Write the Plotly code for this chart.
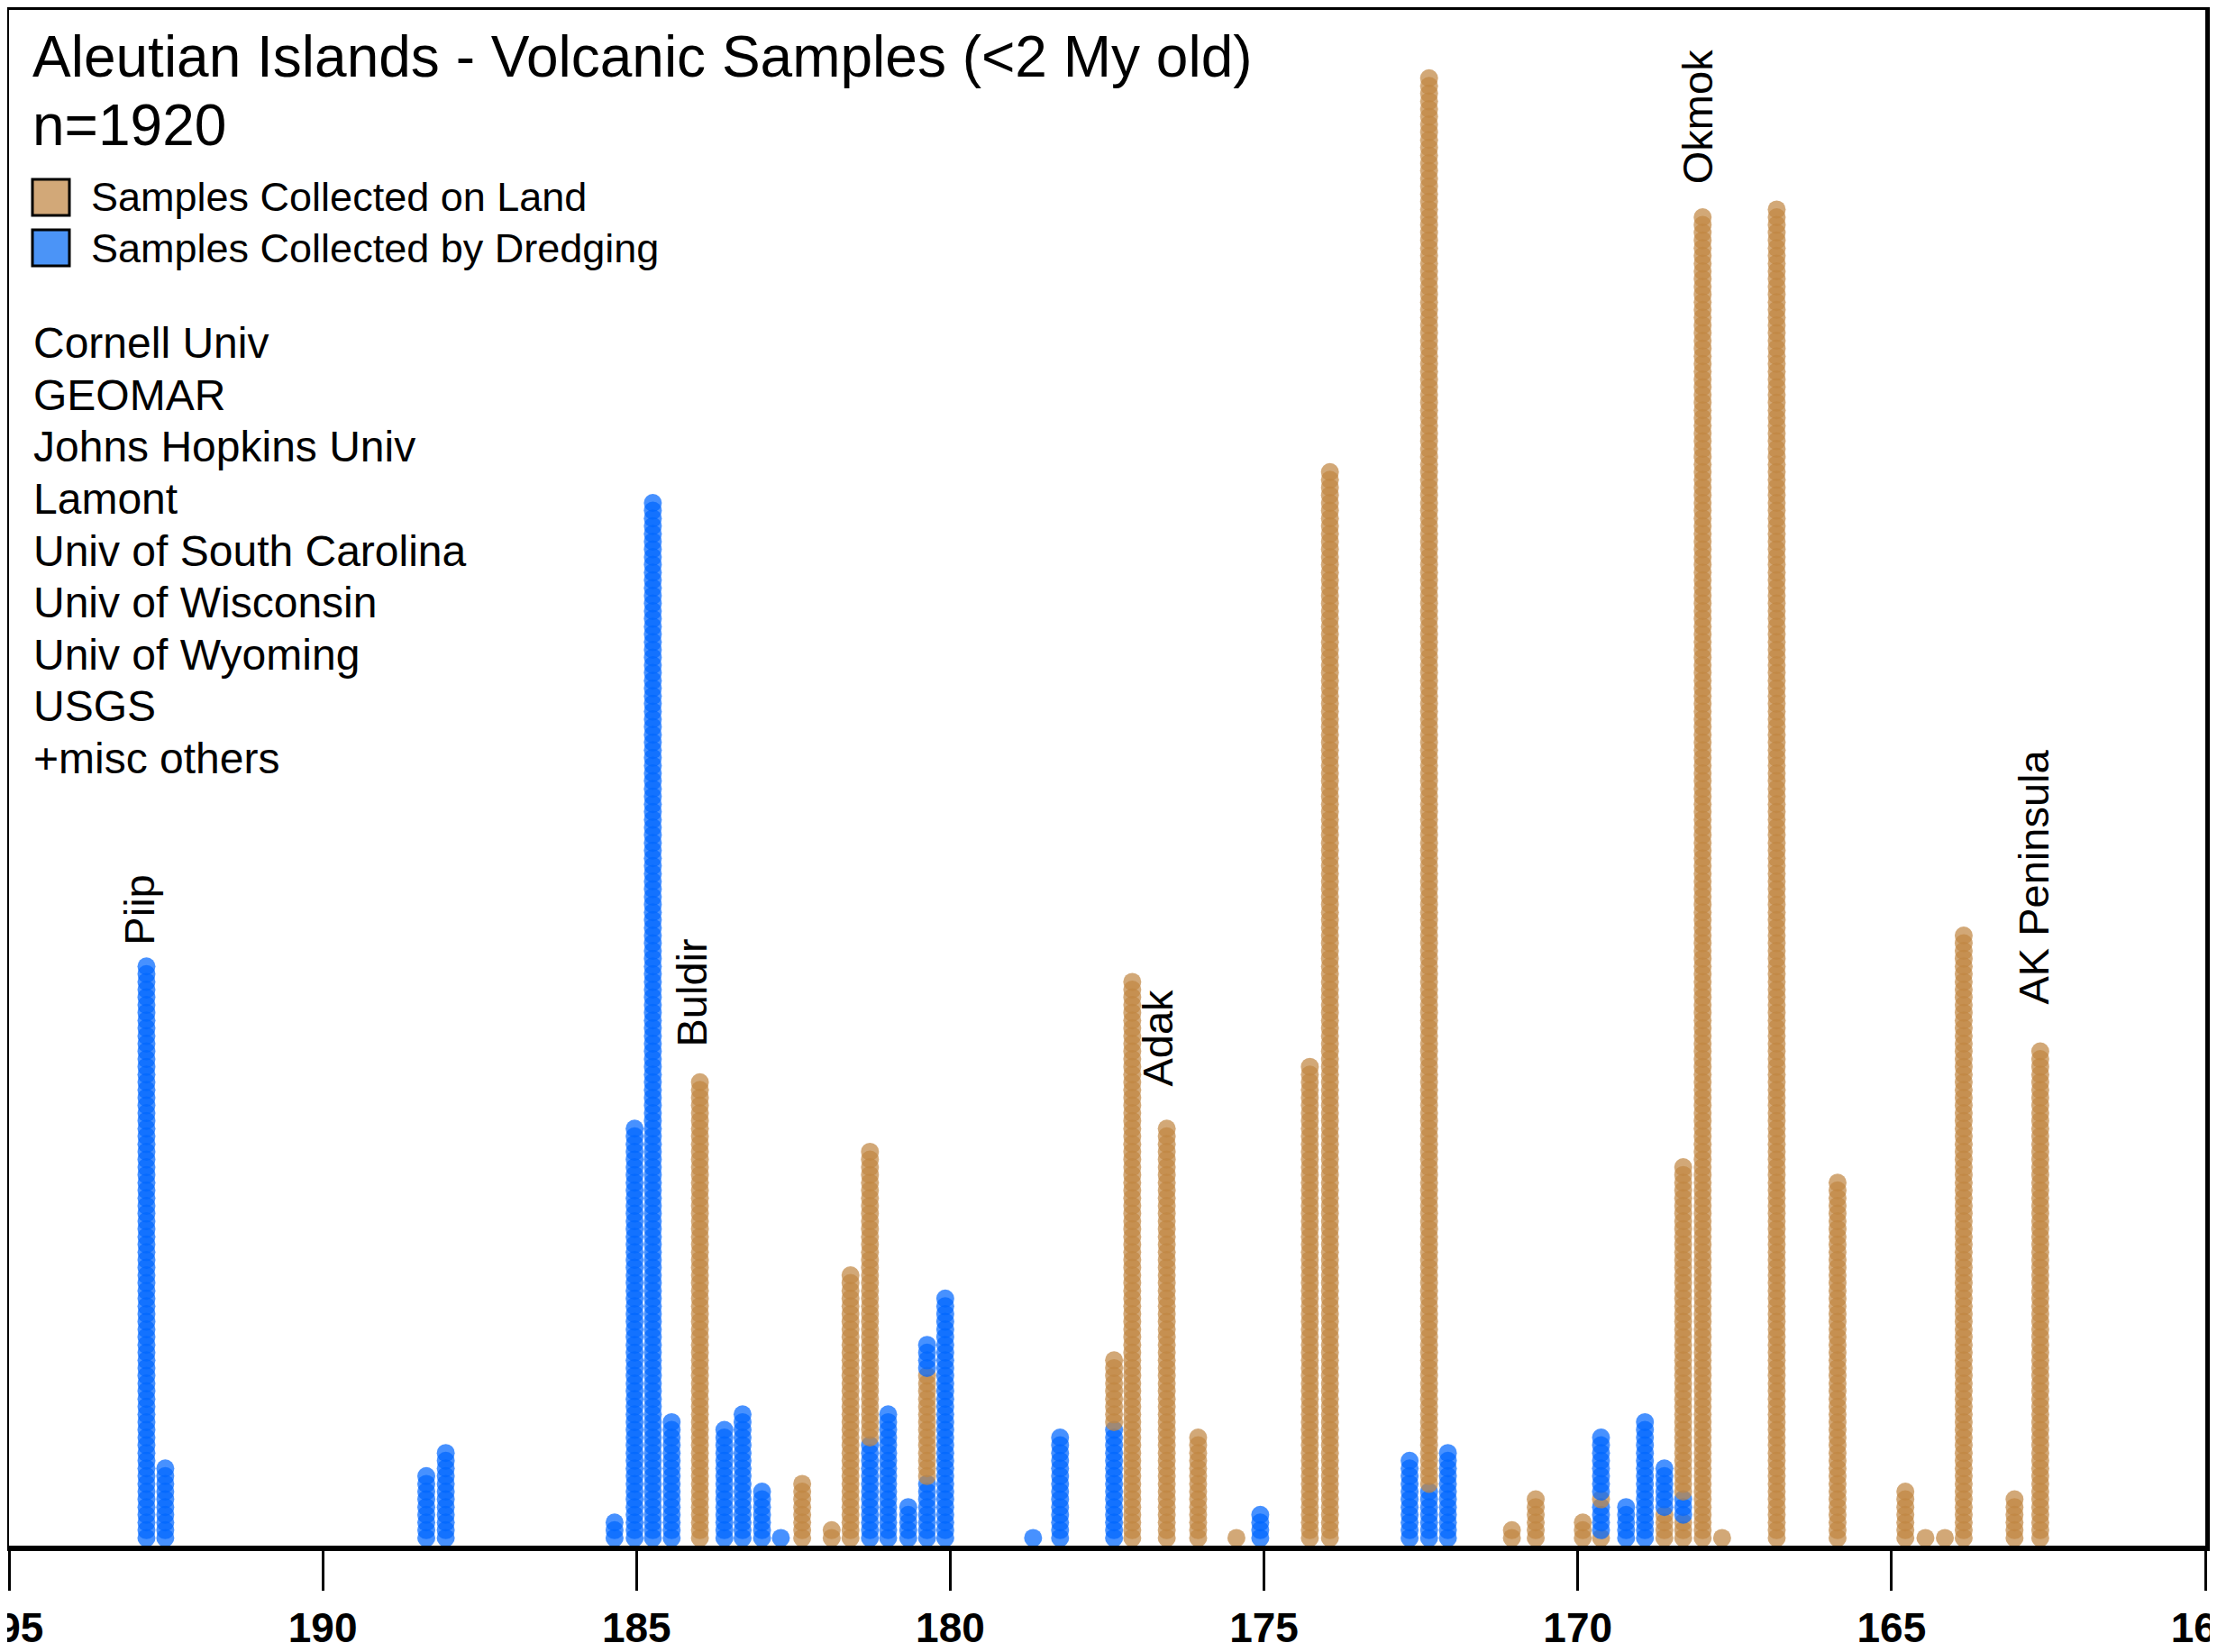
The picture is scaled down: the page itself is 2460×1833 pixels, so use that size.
import plotly.graph_objects as go

# Column longitudes (degrees E, 0-360 convention)
lon = [192.81, 192.51, 188.35, 188.04, 185.35, 185.03, 184.74, 184.44, 183.99, 183.60,
       183.31, 183.00, 182.70, 182.36, 181.89, 181.59, 181.28, 180.99, 180.67, 180.37,
       180.08, 178.68, 178.25, 177.39, 177.10, 176.55, 176.05, 175.44, 175.06, 174.27,
       173.95, 172.68, 172.37, 172.07, 171.05, 170.67, 169.92, 169.63, 169.23, 168.93,
       168.62, 168.32, 168.01, 167.70, 166.83, 165.86, 164.78, 164.46, 164.15, 163.85,
       163.04, 162.63]

# Sample stacks per column, bottom to top: (type, count); L = land, D = dredging
stacks = [
    [("D", 75)], [("D", 10)], [("D", 9)], [("D", 12)], [("D", 3)], [("D", 54)],
    [("D", 135)], [("D", 16)], [("L", 60)], [("D", 15)], [("D", 17)], [("D", 7)],
    [("D", 1)], [("L", 8)], [("L", 2)], [("L", 35)], [("D", 13), ("L", 38)],
    [("D", 17)], [("D", 5)], [("D", 8), ("L", 14), ("D", 4)], [("D", 32)], [("D", 1)],
    [("D", 14)], [("D", 15), ("L", 9)], [("L", 73)], [("L", 54)], [("L", 14)],
    [("L", 1)], [("D", 4)], [("L", 62)], [("L", 139)], [("D", 11)],
    [("D", 7), ("L", 183)], [("D", 12)], [("L", 2)], [("L", 6)], [("L", 3)],
    [("L", 1), ("D", 4), ("L", 1), ("D", 8)], [("D", 5)], [("D", 16)],
    [("L", 4), ("D", 6)], [("L", 3), ("D", 3), ("L", 43)], [("L", 172)], [("L", 1)],
    [("L", 173)], [("L", 47)], [("L", 7)], [("L", 1)], [("L", 1)], [("L", 79)],
    [("L", 6)], [("L", 64)],
]

x_ticks = [195, 190, 185, 180, 175, 170, 165, 160]

volcano_names = ["Piip", "Buldir", "Adak", "Okmok", "AK Peninsula"]
volcano_lon = [192.92, 184.12, 176.69, 168.10, 162.74]
volcano_y = [77.5, 64.3, 59.2, 176.0, 69.8]

institutions = ["Cornell Univ", "GEOMAR", "Johns Hopkins Univ", "Lamont",
                "Univ of South Carolina", "Univ of Wisconsin", "Univ of Wyoming",
                "USGS", "+misc others"]

title_line1 = "Aleutian Islands - Volcanic Samples (<2 My old)"
title_line2 = "n=1920"
legend_labels = ["Samples Collected on Land", "Samples Collected by Dredging"]

LAND = "rgba(192,134,66,0.72)"
DREDGE = "rgba(0,102,255,0.72)"
colmap = {"L": LAND, "D": DREDGE}

xs, ys, cs = [], [], []
for x, st in zip(lon, stacks):
    k = 0
    for kind, cnt in st:
        for _ in range(cnt):
            k += 1
            xs.append(x)
            ys.append(k)
            cs.append(colmap[kind])

# page is offset by the default 8px body margin, so the figure is 8px smaller
OFF = 8
W, H = 2460 - OFF, 1833 - OFF
ML, MR, MT, MB = 2, 13, 3, 118
PW, PH = W - ML - MR, H - MT - MB
PX_PER_SAMPLE = 8.57
ymax = PH / PX_PER_SAMPLE

fig = go.Figure()
fig.add_trace(go.Scatter(
    x=xs, y=ys, mode="markers",
    marker=dict(size=20, color=cs, line=dict(width=0)),
    showlegend=False, hoverinfo="skip",
))

FONT = "Liberation Sans, Arial, Helvetica, sans-serif"

def px(xp):
    # page x -> paper
    return (xp - OFF - ML) / PW

def py(yp):
    # page y -> paper
    return (H - MB - (yp - OFF)) / PH

ann = []
ann.append(dict(text=title_line1, x=px(34), y=py(63), xref="paper", yref="paper",
                xanchor="left", yanchor="middle", showarrow=False,
                font=dict(family=FONT, size=64, color="black")))
ann.append(dict(text=title_line2, x=px(34), y=py(139), xref="paper", yref="paper",
                xanchor="left", yanchor="middle", showarrow=False,
                font=dict(family=FONT, size=64, color="black")))
leg_y = [219, 275]
for lbl, yy in zip(legend_labels, leg_y):
    ann.append(dict(text=lbl, x=px(99), y=py(yy), xref="paper", yref="paper",
                    xanchor="left", yanchor="middle", showarrow=False,
                    font=dict(family=FONT, size=45, color="black")))
for i, inst in enumerate(institutions):
    ann.append(dict(text=inst, x=px(35), y=py(381 + i * 57.5), xref="paper", yref="paper",
                    xanchor="left", yanchor="middle", showarrow=False,
                    font=dict(family=FONT, size=48, color="black")))
for name, lx, ly in zip(volcano_names, volcano_lon, volcano_y):
    ann.append(dict(text=name, x=lx, y=ly, xref="x", yref="y", textangle=-90,
                    xanchor="center", yanchor="bottom", showarrow=False,
                    font=dict(family=FONT, size=47, color="black")))

shapes = []
sw_colors = ["#D2A878", "#4B94F7"]
for c, yy in zip(sw_colors, leg_y):
    shapes.append(dict(type="rect", xref="paper", yref="paper",
                       x0=px(36), x1=px(77), y0=py(yy - 20), y1=py(yy + 20),
                       fillcolor=c, line=dict(color="black", width=3)))

fig.update_layout(
    width=W, height=H,
    margin=dict(l=ML, r=MR, t=MT, b=MB, pad=0, autoexpand=False),
    paper_bgcolor="white", plot_bgcolor="white",
    annotations=ann, shapes=shapes,
    xaxis=dict(range=[195, 160], tickvals=x_ticks, ticktext=[str(t) for t in x_ticks],
               showgrid=False, zeroline=False, showline=True, linecolor="black",
               linewidth=6, mirror=True, ticks="outside", ticklen=44, tickwidth=2.5,
               tickcolor="black", ticklabeloverflow="allow", ticklabelstandoff=2,
               automargin=False,
               tickfont=dict(family=FONT, size=46, color="black", weight="bold")),
    yaxis=dict(range=[0, ymax], tickvals=[0, 50, 100, 150], showticklabels=False,
               showgrid=False, zeroline=False, showline=True, linecolor="black",
               linewidth=6, mirror=True, ticks="outside", ticklen=8, tickwidth=2,
               tickcolor="black", automargin=False),
)

fig.write_html("out.html")
